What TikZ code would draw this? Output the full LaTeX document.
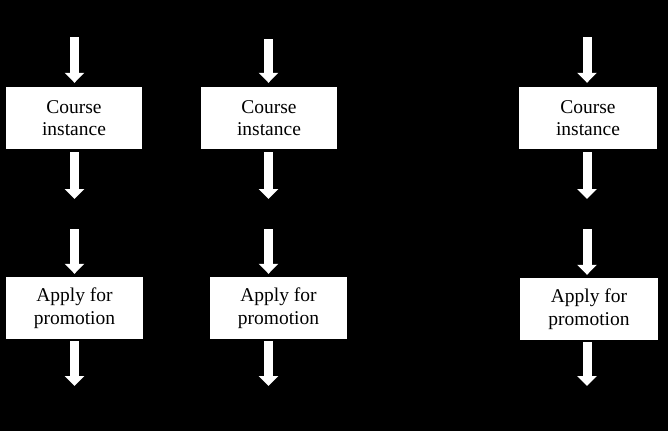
\documentclass[tikz,border=0pt]{standalone}
\usepackage{fontspec}
\setmainfont{Liberation Serif}
\usetikzlibrary{arrows.meta}
\begin{document}
\begin{tikzpicture}[x=1pt,y=-1pt,
  box/.style={fill=white, draw=none, inner sep=0pt, minimum height=62pt,
    align=center, font=\fontsize{19.5}{22.5}\selectfont, text=black},
  flow/.style={draw=white, line width=9pt,
    -{Triangle[width=19pt,length=10pt]}, white}]
\fill[black] (0,0) rectangle (668,431);
\useasboundingbox (0,0) rectangle (668,431);
% boxes
\node[box, minimum width=136pt] (c1) at (74,118) {Course\\instance};
\node[box, minimum width=136pt] (c2) at (269,118) {Course\\instance};
\node[box, minimum width=138pt] (c3) at (588,118) {Course\\instance};
\node[box, minimum width=137pt] (p1) at (74.5,308) {Apply for\\promotion};
\node[box, minimum width=137pt] (p2) at (278.5,308) {Apply for\\promotion};
\node[box, minimum width=138pt] (p3) at (589,309) {Apply for\\promotion};
% free ends
\coordinate (t1) at (74.5,37);
\coordinate (t2) at (268.5,39);
\coordinate (t3) at (587,37);
\coordinate (m1a) at (74.5,199);
\coordinate (m2a) at (268.5,199);
\coordinate (m3a) at (587,199);
\coordinate (m1b) at (74.5,229);
\coordinate (m2b) at (268.5,229);
\coordinate (m3b) at (587,229);
\coordinate (b1) at (74.5,386);
\coordinate (b2) at (268.5,386);
\coordinate (b3) at (587,386);
% arrows
\foreach \i in {1,2,3}{
  \draw[flow] (t\i) -- ([yshift=4pt]t\i |- c\i.north);
  \draw[flow] ([yshift=-3pt]m\i a |- c\i.south) -- (m\i a);
  \draw[flow] (m\i b) -- ([yshift=3pt]m\i b |- p\i.north);
  \draw[flow] ([yshift=-2pt]b\i |- p\i.south) -- (b\i);
}
\end{tikzpicture}
\end{document}
